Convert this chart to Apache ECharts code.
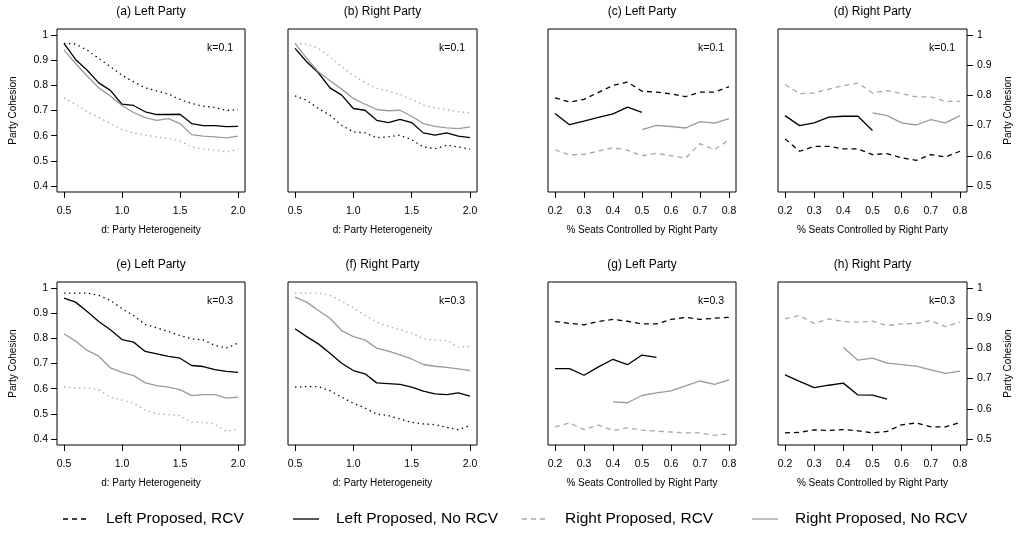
<!DOCTYPE html>
<html>
<head>
<meta charset="utf-8">
<script src="https://cdn.jsdelivr.net/npm/echarts@6/dist/echarts.min.js"></script>
<style>
  html, body { margin: 0; padding: 0; background: #fff; }
  #chart { width: 1018px; height: 533px; }
</style>
</head>
<body>
<div id="chart"></div>
<script>
// x grids
const heterogeneity = [0.5, 0.6, 0.7, 0.8, 0.9, 1.0, 1.1, 1.2, 1.3, 1.4, 1.5, 1.6, 1.7, 1.8, 1.9, 2.0];
const seatShare = [0.2, 0.25, 0.3, 0.35, 0.4, 0.45, 0.5, 0.55, 0.6, 0.65, 0.7, 0.75, 0.8];

// tick labels
const heteroTicks = [0.5, 1.0, 1.5, 2.0];
const seatTicks = [0.2, 0.3, 0.4, 0.5, 0.6, 0.7, 0.8];
const cohesionTicksWide = [0.4, 0.5, 0.6, 0.7, 0.8, 0.9, 1];
const cohesionTicksNarrow = [0.5, 0.6, 0.7, 0.8, 0.9, 1];

const seriesNames = ['Left Proposed, RCV', 'Left Proposed, No RCV', 'Right Proposed, RCV', 'Right Proposed, No RCV'];
const panelTitles = ['(a) Left Party', '(b) Right Party', '(c) Left Party', '(d) Right Party',
                     '(e) Left Party', '(f) Right Party', '(g) Left Party', '(h) Right Party'];
const kLabels = ['k=0.1', 'k=0.1', 'k=0.1', 'k=0.1', 'k=0.3', 'k=0.3', 'k=0.3', 'k=0.3'];
const xTitles = ['d: Party Heterogeneity', '% Seats Controlled by Right Party'];
const yTitle = 'Party Cohesion';

// (a) left party, k=0.1, by heterogeneity
const aLeftRCV    = [0.967, 0.964, 0.94, 0.907, 0.874, 0.84, 0.814, 0.79, 0.778, 0.765, 0.744, 0.728, 0.717, 0.712, 0.70, 0.704];
const aLeftNoRCV  = [0.967, 0.903, 0.86, 0.81, 0.78, 0.725, 0.72, 0.695, 0.684, 0.684, 0.685, 0.648, 0.64, 0.64, 0.636, 0.637];
const aRightRCV   = [0.75, 0.725, 0.695, 0.672, 0.648, 0.624, 0.611, 0.602, 0.595, 0.588, 0.579, 0.555, 0.547, 0.542, 0.535, 0.545];
const aRightNoRCV = [0.94, 0.887, 0.837, 0.79, 0.758, 0.72, 0.692, 0.672, 0.661, 0.668, 0.648, 0.604, 0.598, 0.595, 0.591, 0.598];

// (b) right party, k=0.1, by heterogeneity
const bLeftRCV    = [0.758, 0.741, 0.708, 0.681, 0.641, 0.615, 0.611, 0.592, 0.595, 0.602, 0.584, 0.555, 0.548, 0.562, 0.555, 0.546];
const bLeftNoRCV  = [0.947, 0.894, 0.85, 0.79, 0.761, 0.708, 0.701, 0.661, 0.652, 0.665, 0.652, 0.611, 0.602, 0.611, 0.598, 0.592];
const bRightRCV   = [0.967, 0.964, 0.947, 0.914, 0.874, 0.84, 0.81, 0.788, 0.777, 0.764, 0.744, 0.721, 0.71, 0.704, 0.695, 0.691];
const bRightNoRCV = [0.967, 0.907, 0.854, 0.818, 0.785, 0.748, 0.725, 0.704, 0.699, 0.701, 0.677, 0.648, 0.637, 0.631, 0.628, 0.635];

// (c) left party, k=0.1, by seat share
const cLeftRCV    = [0.792, 0.778, 0.787, 0.81, 0.833, 0.844, 0.814, 0.811, 0.805, 0.796, 0.811, 0.811, 0.829];
const cLeftNoRCV  = [0.74, 0.703, 0.715, 0.727, 0.739, 0.761, 0.744, null, null, null, null, null, null];
const cRightRCV   = [0.62, 0.603, 0.605, 0.615, 0.627, 0.618, 0.60, 0.608, 0.60, 0.592, 0.64, 0.62, 0.653];
const cRightNoRCV = [null, null, null, null, null, null, 0.687, 0.701, 0.697, 0.692, 0.713, 0.708, 0.723];

// (d) right party, k=0.1, by seat share
const dLeftRCV    = [0.656, 0.615, 0.631, 0.631, 0.623, 0.623, 0.604, 0.607, 0.593, 0.585, 0.604, 0.596, 0.615];
const dLeftNoRCV  = [0.733, 0.70, 0.709, 0.728, 0.731, 0.731, 0.684, null, null, null, null, null, null];
const dRightRCV   = [0.836, 0.806, 0.808, 0.821, 0.832, 0.841, 0.808, 0.816, 0.806, 0.795, 0.795, 0.78, 0.78];
const dRightNoRCV = [null, null, null, null, null, null, 0.742, 0.733, 0.709, 0.702, 0.72, 0.709, 0.733];

// (e) left party, k=0.3, by heterogeneity
const eLeftRCV    = [0.98, 0.98, 0.98, 0.971, 0.951, 0.918, 0.891, 0.855, 0.842, 0.827, 0.811, 0.798, 0.794, 0.772, 0.762, 0.781];
const eLeftNoRCV  = [0.96, 0.944, 0.907, 0.867, 0.834, 0.795, 0.785, 0.748, 0.738, 0.728, 0.721, 0.692, 0.688, 0.676, 0.669, 0.665];
const eRightRCV   = [0.606, 0.603, 0.603, 0.595, 0.566, 0.555, 0.542, 0.515, 0.499, 0.497, 0.493, 0.466, 0.466, 0.46, 0.43, 0.44];
const eRightNoRCV = [0.818, 0.789, 0.752, 0.729, 0.683, 0.665, 0.652, 0.623, 0.612, 0.606, 0.596, 0.572, 0.576, 0.576, 0.562, 0.566];

// (f) right party, k=0.3, by heterogeneity
const fLeftRCV    = [0.606, 0.608, 0.608, 0.592, 0.566, 0.542, 0.523, 0.499, 0.493, 0.479, 0.466, 0.46, 0.457, 0.446, 0.437, 0.453];
const fLeftNoRCV  = [0.838, 0.807, 0.778, 0.741, 0.701, 0.672, 0.659, 0.623, 0.62, 0.617, 0.606, 0.59, 0.579, 0.576, 0.583, 0.57];
const fRightRCV   = [0.98, 0.98, 0.98, 0.971, 0.948, 0.922, 0.891, 0.865, 0.847, 0.834, 0.821, 0.798, 0.794, 0.791, 0.765, 0.768];
const fRightNoRCV = [0.964, 0.944, 0.911, 0.88, 0.831, 0.807, 0.794, 0.761, 0.749, 0.734, 0.718, 0.696, 0.689, 0.685, 0.679, 0.672];

// (g) left party, k=0.3, by seat share
const gLeftRCV    = [0.889, 0.883, 0.878, 0.889, 0.896, 0.89, 0.881, 0.881, 0.896, 0.903, 0.896, 0.90, 0.903];
const gLeftNoRCV  = [0.733, 0.733, 0.711, 0.739, 0.764, 0.746, 0.778, 0.77, null, null, null, null, null];
const gRightRCV   = [0.54, 0.553, 0.531, 0.546, 0.528, 0.537, 0.529, 0.526, 0.523, 0.52, 0.52, 0.512, 0.517];
const gRightNoRCV = [null, null, null, null, 0.623, 0.62, 0.644, 0.653, 0.659, 0.676, 0.692, 0.681, 0.696];

// (h) right party, k=0.3, by seat share
const hLeftRCV    = [0.52, 0.522, 0.53, 0.528, 0.531, 0.527, 0.52, 0.525, 0.547, 0.553, 0.54, 0.54, 0.555];
const hLeftNoRCV  = [0.712, 0.691, 0.67, 0.678, 0.685, 0.646, 0.645, 0.632, null, null, null, null, null];
const hRightRCV   = [0.898, 0.909, 0.883, 0.898, 0.889, 0.887, 0.89, 0.876, 0.881, 0.883, 0.892, 0.872, 0.887];
const hRightNoRCV = [null, null, null, null, 0.803, 0.761, 0.768, 0.751, 0.746, 0.741, 0.729, 0.717, 0.725];

const panelSeries = [
  [aLeftRCV, aLeftNoRCV, aRightRCV, aRightNoRCV],
  [bLeftRCV, bLeftNoRCV, bRightRCV, bRightNoRCV],
  [cLeftRCV, cLeftNoRCV, cRightRCV, cRightNoRCV],
  [dLeftRCV, dLeftNoRCV, dRightRCV, dRightNoRCV],
  [eLeftRCV, eLeftNoRCV, eRightRCV, eRightNoRCV],
  [fLeftRCV, fLeftNoRCV, fRightRCV, fRightNoRCV],
  [gLeftRCV, gLeftNoRCV, gRightRCV, gRightNoRCV],
  [hLeftRCV, hLeftNoRCV, hRightRCV, hRightNoRCV]
];

// ---- layout and styling ----
const FONT = 'Liberation Sans, Arial, Helvetica, sans-serif';
const BLACK = '#000';
const GRAY = '#9a9a9a';
const GRAY_DASH = '#a8a8a8';
const colLeft = [57, 288, 548, 778];
const colWidth = [188, 189, 188, 189];
const rowTop = [29, 282];
const boxHeight = 163;

const dotted = [1.4, 3.6];
const dashed = [5, 4];

function lineStyleFor(seriesIdx, byHeterogeneity) {
  const isRCV = seriesIdx === 0 || seriesIdx === 2;
  const isLeft = seriesIdx < 2;
  const base = { width: 1.3, color: isLeft ? BLACK : (isRCV ? GRAY_DASH : GRAY), cap: 'butt' };
  base.type = isRCV ? (byHeterogeneity ? dotted : dashed) : 'solid';
  return base;
}

function tickFmt(v) {
  return Math.abs(v - 1) < 1e-9 ? '1' : v.toFixed(1);
}

const grids = [], xAxes = [], yAxes = [], series = [], graphics = [];

for (let p = 0; p < 8; p++) {
  const row = p < 4 ? 0 : 1;
  const col = p % 4;
  const byHet = col < 2;
  const left = colLeft[col], width = colWidth[col], top = rowTop[row];

  grids.push({
    left: left, top: top, width: width, height: boxHeight,
    show: true, borderColor: BLACK, borderWidth: 1, backgroundColor: 'transparent',
    containLabel: false, outerBoundsMode: 'none'
  });

  const xs = byHet ? heterogeneity : seatShare;
  const xTicks = byHet ? heteroTicks : seatTicks;
  xAxes.push({
    type: 'value', gridIndex: p,
    min: byHet ? 0.44 : 0.176, max: byHet ? 2.06 : 0.824,
    axisLine: { show: false },
    splitLine: { show: false },
    axisTick: { show: true, length: 6, customValues: xTicks, lineStyle: { color: BLACK, width: 1 } },
    axisLabel: { show: true, customValues: xTicks, margin: 14, formatter: v => v.toFixed(1),
                 color: BLACK, fontFamily: FONT, fontSize: 10.5, hideOverlap: false },
    name: byHet ? xTitles[0] : xTitles[1],
    nameLocation: 'middle', nameGap: 33,
    nameTextStyle: { color: BLACK, fontFamily: FONT, fontSize: 10 }
  });

  const yTicks = byHet ? cohesionTicksWide : cohesionTicksNarrow;
  const showLeftAxis = (col === 0);
  const showRightAxis = (col === 3);
  const showY = showLeftAxis || showRightAxis;
  yAxes.push({
    type: 'value', gridIndex: p,
    position: showRightAxis ? 'right' : 'left',
    min: byHet ? 0.376 : 0.48, max: byHet ? 1.024 : 1.02,
    axisLine: { show: false },
    splitLine: { show: false },
    axisTick: { show: showY, length: 6, customValues: yTicks, lineStyle: { color: BLACK, width: 1 } },
    axisLabel: { show: showY, customValues: yTicks, margin: showRightAxis ? 10 : 9, formatter: tickFmt,
                 color: BLACK, fontFamily: FONT, fontSize: 10.5, hideOverlap: false },
    name: showY ? yTitle : '',
    nameLocation: 'middle', nameRotate: 90,
    nameGap: showRightAxis ? 36 : 39,
    nameTextStyle: { color: BLACK, fontFamily: FONT, fontSize: 10 }
  });

  panelSeries[p].forEach((vals, s) => {
    const ls = lineStyleFor(s, byHet);
    series.push({
      type: 'line', name: seriesNames[s],
      xAxisIndex: p, yAxisIndex: p,
      data: xs.map((x, j) => [x, vals[j]]),
      symbol: 'none', showSymbol: false,
      connectNulls: false, silent: true, animation: false,
      lineStyle: ls,
      itemStyle: { color: ls.color },
      z: s % 2 === 1 ? 3 : 2
    });
  });

  // panel title
  graphics.push({
    type: 'text', x: left + width / 2, y: top - 17,
    style: { text: panelTitles[p], fill: BLACK, font: '12px ' + FONT, align: 'center', verticalAlign: 'middle' }
  });
  // k label
  graphics.push({
    type: 'text', x: left + width - 12, y: top + 19,
    style: { text: kLabels[p], fill: BLACK, font: '10.5px ' + FONT, align: 'right', verticalAlign: 'middle' }
  });
}

// legend: one component per entry, with the line sample drawn beside its label
const legendLeft = [63, 293, 522, 752];
const legendY = 519;
const legendSampleWidth = 26;
const legendStyles = [
  { color: BLACK, type: dashed, width: 1.3 },
  { color: BLACK, type: 'solid', width: 1.3 },
  { color: GRAY_DASH, type: dashed, width: 1.3 },
  { color: GRAY, type: 'solid', width: 1.3 }
];
const legends = seriesNames.map((name, i) => ({
  show: true, orient: 'horizontal',
  left: legendLeft[i], top: legendY - 9,
  itemWidth: legendSampleWidth, itemHeight: 18, padding: 0,
  selectedMode: false,
  data: [{ name: name, icon: 'none' }],
  textStyle: { color: BLACK, fontFamily: FONT, fontSize: 15.5, padding: [0, 0, 0, 12] }
}));
legendStyles.forEach((st, i) => {
  graphics.push({
    type: 'line', silent: true,
    shape: { x1: legendLeft[i], y1: legendY, x2: legendLeft[i] + legendSampleWidth, y2: legendY },
    style: { stroke: st.color, lineWidth: st.width, lineDash: st.type === 'solid' ? null : st.type }
  });
});

const chart = echarts.init(document.getElementById('chart'), null, { renderer: 'canvas' });
chart.setOption({
  backgroundColor: '#fff',
  animation: false,
  grid: grids,
  xAxis: xAxes,
  yAxis: yAxes,
  series: series,
  legend: legends,
  graphic: graphics
});
</script>
</body>
</html>
